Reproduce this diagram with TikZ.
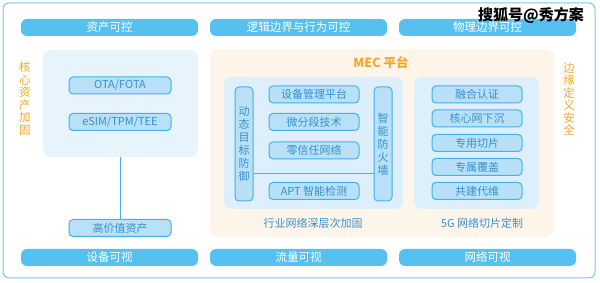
\documentclass[tikz,border=0pt]{standalone}
\usepackage{fontspec}
\newfontfamily\cjk{Noto Sans CJK SC}
\usetikzlibrary{positioning, backgrounds}
\definecolor{Bar}{HTML}{56C1F0}
\definecolor{Edge}{HTML}{45B0EC}
\definecolor{BoxFill}{HTML}{B8E1F8}
\definecolor{Txt}{HTML}{3590D0}
\definecolor{Orange}{HTML}{F5A623}
\definecolor{LPanel}{HTML}{E8F4FC}
\definecolor{OPanel}{HTML}{FEF5EA}
\definecolor{IPanel}{HTML}{DCEFFA}
\definecolor{Frame}{HTML}{7CC4EC}

\tikzset{
  bar/.style={fill=Bar, rounded corners=6, minimum width=177, minimum height=17,
    inner sep=0, text=white, font=\cjk\fontsize{11.5}{13}\selectfont},
  item/.style={draw=Edge, fill=BoxFill, line width=1pt, rounded corners=4,
    minimum width=90, minimum height=17, inner sep=0, text=Txt,
    font=\cjk\fontsize{11}{13}\selectfont},
  vitem/.style={item, minimum width=18, minimum height=114, align=center,
    font=\cjk\fontsize{11}{13}\selectfont},
  vlabel/.style={text=Orange, align=center, inner sep=0,
    font=\cjk\fontsize{11.5}{12.5}\selectfont},
  caption/.style={text=Txt, inner sep=0, font=\cjk\fontsize{11}{13}\selectfont},
  link/.style={draw=Edge, line width=0.8pt}
}

\begin{document}
\begin{tikzpicture}[x=1pt, y=-1pt]
\useasboundingbox (0,0) rectangle (600,283);

% frame and panels
\draw[Frame, line width=1pt, rounded corners=6] (3,3) rectangle (595,278);
\fill[LPanel, rounded corners=8] (43,50) rectangle (198,157);
\fill[OPanel, rounded corners=8] (210,49) rectangle (554,237);
\fill[IPanel, rounded corners=8] (224,77) rectangle (403,209);
\fill[IPanel, rounded corners=8] (414,77) rectangle (539,209);

% top and bottom bars
\node[bar] (bar-assets) at (109.5,27.5) {资产可控};
\node[bar] (bar-logic) at (298.5,27.5) {逻辑边界与行为可控};
\node[bar] (bar-phys) at (487.5,27.5) {物理边界可控};
\node[bar] (bar-device) at (109.5,257.5) {设备可视};
\node[bar] (bar-flow) at (298.5,257.5) {流量可视};
\node[bar] (bar-net) at (487.5,257.5) {网络可视};

% side labels
\node[vlabel] (label-core) at (25,98.5) {核\\心\\资\\产\\加\\固};
\node[vlabel] (label-edge) at (569,99) {边\\缘\\定\\义\\安\\全};

% core assets
\node[item, minimum width=102] (box-ota) at (120,85.5) {OTA/FOTA};
\node[item, minimum width=102] (box-esim) at (120,122) {eSIM/TPM/TEE};
\node[item, minimum width=102] (box-value) at (120,228) {高价值资产};
\coordinate (panel-bottom) at (120,157);
\draw[link] (panel-bottom) -- (box-value);

% MEC platform
\node[text=Orange, inner sep=0, font=\cjk\bfseries\fontsize{12.5}{14}\selectfont]
  (title-mec) at (381,63) {MEC 平台};

\node[vitem] (box-dynamic) at (244,144) {动\\态\\目\\标\\防\\御};
\node[vitem] (box-firewall) at (383,144) {智\\能\\防\\火\\墙};
\node[item] (box-mgmt) at (314,94.5) {设备管理平台};
\node[item] (box-micro) at (314,122) {微分段技术};
\node[item] (box-zero) at (314,150.5) {零信任网络};
\node[item] (box-apt) at (314,191) {APT 智能检测};
\coordinate (dyn-link) at (box-dynamic.east |- 0,173);
\coordinate (fw-link) at (box-firewall.west |- 0,173);
\draw[link] (dyn-link) -- (fw-link);
\node[caption] (caption-deep) at (313,223) {行业网络深层次加固};

\node[item] (box-auth) at (477,94.5) {融合认证};
\node[item] (box-sink) at (477,118.5) {核心网下沉};
\node[item] (box-slice) at (477,143) {专用切片};
\node[item] (box-cover) at (477,167) {专属覆盖};
\node[item] (box-ops) at (477,191) {共建代维};
\node[caption] (caption-5g) at (482,223) {5G 网络切片定制};

% watermark
\node[inner sep=0, font=\cjk\bfseries\fontsize{15}{17}\selectfont]
  (watermark) at (531,15) {搜狐号@秀方案};
\end{tikzpicture}
\end{document}
